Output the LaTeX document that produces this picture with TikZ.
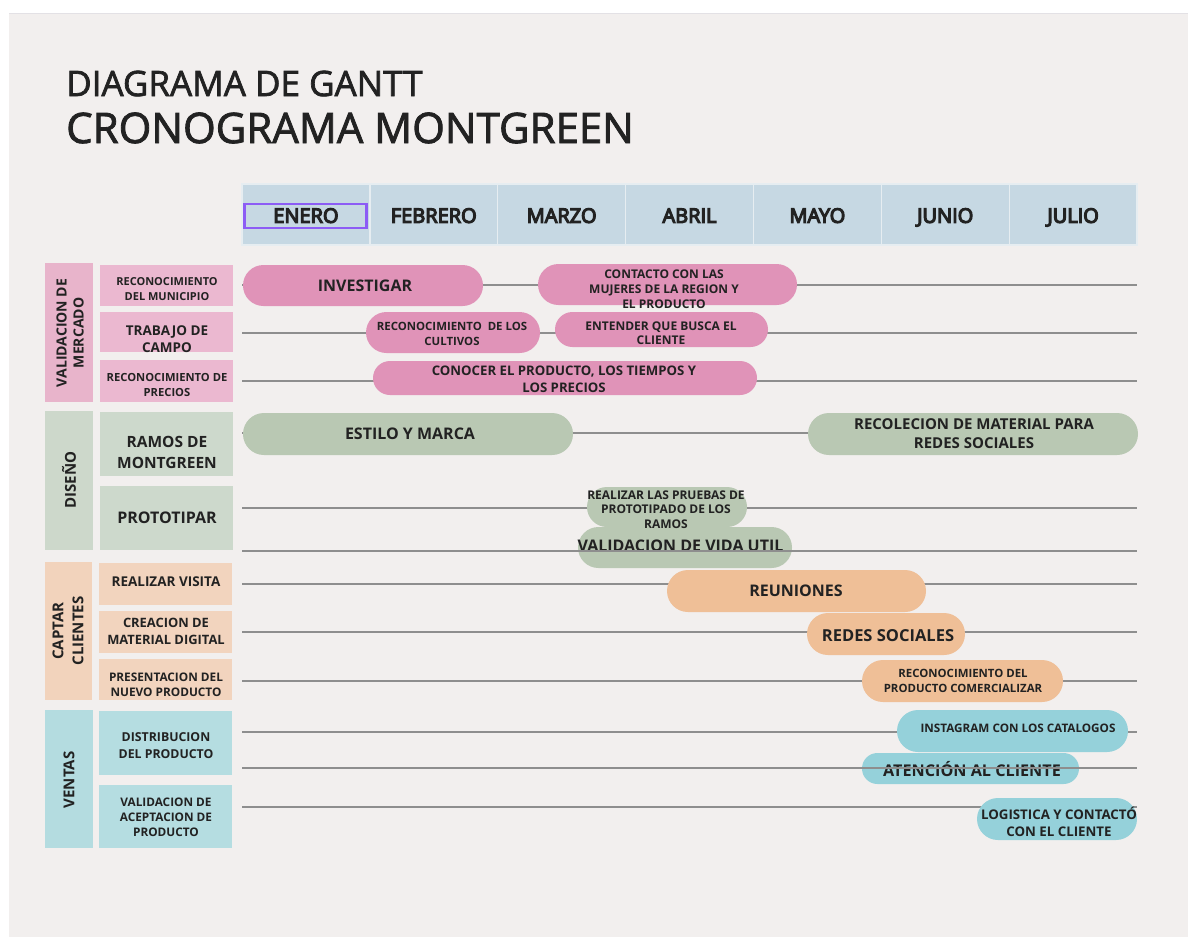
\documentclass[tikz,border=0pt]{standalone}
\usepackage{fontspec}
\usetikzlibrary{calc}
\setmainfont{Open Sans}

% palette
\definecolor{pagebg}{HTML}{F2EFEE}
\definecolor{topline}{HTML}{E3E1E5}
\definecolor{hdrc}{HTML}{C6D8E3}
\definecolor{hdrsep}{HTML}{E6EDF1}
\definecolor{selc}{HTML}{8C5CF5}
\definecolor{ink}{HTML}{222222}
\definecolor{lineg}{HTML}{8E8E8E}
\definecolor{pinkgrp}{HTML}{E8B4CB}
\definecolor{pinksub}{HTML}{EBB8D0}
\definecolor{pinkbar}{HTML}{E093B8}
\definecolor{greengrp}{HTML}{CDD8CB}
\definecolor{greensub}{HTML}{CDD9CC}
\definecolor{greenbar}{HTML}{B9C8B3}
\definecolor{peachgrp}{HTML}{F2D3BC}
\definecolor{peachsub}{HTML}{F2D4BE}
\definecolor{peachbar}{HTML}{EFBF97}
\definecolor{tealgrp}{HTML}{B4DCE0}
\definecolor{tealsub}{HTML}{B5DDE1}
\definecolor{tealbar}{HTML}{95D1DA}

\newcommand\fsz[2]{\fontsize{#1}{#2}\selectfont}
% medium weight: glyphs filled and lightly stroked
\newcommand\heavy[2]{\special{pdf:literal direct 2 Tr #1 w}#2\special{pdf:literal direct 0 Tr}}

% plain box given by its corners: name, x1, y1, x2, y2, style
\newcommand\cornerbox[6]{%
  \pgfmathsetmacro\gbW{#4-#2}%
  \pgfmathsetmacro\gbH{#5-#3}%
  \node[#6, minimum width=\gbW pt, minimum height=\gbH pt] (#1) at ({(#2+#4)/2},{(#3+#5)/2}) {};}

% pill-shaped task bar: name, x1, y1, x2, y2, fill
\newcommand\ganttbar[6]{%
  \pgfmathsetmacro\gbW{#4-#2}%
  \pgfmathsetmacro\gbH{#5-#3}%
  \pgfmathsetmacro\gbR{(#5-#3)/2-0.05}%
  \node[barbox, fill=#6, minimum width=\gbW pt, minimum height=\gbH pt,
        rounded corners=\gbR pt] (#1) at ({(#2+#4)/2},{(#3+#5)/2}) {};}

\begin{document}
\begin{tikzpicture}[x=1pt, y=-1pt,
  blk/.style={inner sep=0pt, outer sep=0pt, draw=none},
  barbox/.style={blk},
  txt/.style={inner sep=0pt, text=ink, align=center},
  bt/.style={txt, font=\bfseries},
  hdr/.style={fill=hdrc, draw=hdrsep, line width=1.3pt, inner sep=0pt,
    minimum width=127.86pt, minimum height=61pt},
  mtxt/.style={txt, anchor=base, font=\fsz{20}{22}},
  selbox/.style={draw=selc, line width=2.6pt, inner sep=0pt,
    minimum width=122pt, minimum height=24pt},
  rowline/.style={draw=lineg, line width=1.5pt}
]
\useasboundingbox (0,0) rectangle (1188,937);
\fill[white] (0,0) rectangle (1188,937);
\fill[pagebg] (9,13) rectangle (1188,937);
\draw[topline, line width=1.6pt] (9,13.5) -- (1188,13.5);

% title
\node[txt, anchor=base west] (title1) at (66,96) {\fsz{35}{40}\heavy{0.7}{DIAGRAMA DE GANTT}};
\node[txt, anchor=base west] (title2) at (66,143) {\fsz{42}{48}\heavy{0.8}{CRONOGRAMA MONTGREEN}};

% month header
\foreach \m [count=\i] in {ENERO,FEBRERO,MARZO,ABRIL,MAYO,JUNIO,JULIO}{
  \node[hdr] (m\i) at ({242+127.86*(\i-0.5)},214.5) {};
  \node[mtxt] (m\i t) at ($(m\i.center)+(0,8.3)$) {\heavy{1.2}{\m}};
}
\node[selbox] (sel) at (305.5,216) {};

% category columns
\cornerbox{g1}{45}{263}{93}{402}{blk, fill=pinkgrp}
\cornerbox{g2}{45}{411}{93}{550}{blk, fill=greengrp}
\cornerbox{g3}{45}{562}{92}{700}{blk, fill=peachgrp}
\cornerbox{g4}{45}{710}{93}{848}{blk, fill=tealgrp}
\node[bt, rotate=90, font=\bfseries\fsz{14}{17}] (g1t) at (70,333) {VALIDACION DE\\MERCADO};
\node[bt, rotate=90, font=\bfseries\fsz{15}{18}] (g2t) at (69,480) {DISEÑO};
\node[bt, rotate=90, font=\bfseries\fsz{15}{20}] (g3t) at (68,631) {CAPTAR\\CLIENTES};
\node[bt, rotate=90, font=\bfseries\fsz{15}{18}] (g4t) at (69,780) {VENTAS};

% activity boxes
\cornerbox{s1}{100}{265}{233}{306}{blk, fill=pinksub}
\cornerbox{s2}{100}{312}{233}{352}{blk, fill=pinksub}
\cornerbox{s3}{100}{360}{233}{402}{blk, fill=pinksub}
\cornerbox{s4}{100}{412}{233}{476}{blk, fill=greensub}
\cornerbox{s5}{100}{486}{233}{550}{blk, fill=greensub}
\cornerbox{s6}{99}{563}{232}{605}{blk, fill=peachsub}
\cornerbox{s7}{99}{611}{232}{653}{blk, fill=peachsub}
\cornerbox{s8}{99}{659}{232}{700}{blk, fill=peachsub}
\cornerbox{s9}{99}{711}{232}{775}{blk, fill=tealsub}
\cornerbox{s10}{99}{785}{232}{848}{blk, fill=tealsub}
\node[bt, font=\bfseries\fsz{11}{15}] (s1t) at (167,289) {RECONOCIMIENTO\\DEL MUNICIPIO};
\node[bt, font=\bfseries\fsz{13.5}{17}] (s2t) at (167,339) {TRABAJO DE\\CAMPO};
\node[bt, font=\bfseries\fsz{11.2}{14.5}] (s3t) at (167,385) {RECONOCIMIENTO DE\\PRECIOS};
\node[bt, font=\bfseries\fsz{15.5}{21}] (s4t) at (167,452) {RAMOS DE\\MONTGREEN};
\node[bt, font=\bfseries\fsz{16}{20}] (s5t) at (167,518) {PROTOTIPAR};
\node[bt, font=\bfseries\fsz{13.5}{17}] (s6t) at (166,582) {REALIZAR VISITA};
\node[bt, font=\bfseries\fsz{12.9}{17}] (s7t) at (166,631.5) {CREACION DE\\MATERIAL DIGITAL};
\node[bt, font=\bfseries\fsz{11.8}{15}] (s8t) at (166,684.5) {PRESENTACION DEL\\NUEVO PRODUCTO};
\node[bt, font=\bfseries\fsz{12.3}{17}] (s9t) at (166,745.5) {DISTRIBUCION\\DEL PRODUCTO};
\node[bt, font=\bfseries\fsz{11.8}{15}] (s10t) at (166,817) {VALIDACION DE\\ACEPTACION DE\\PRODUCTO};

% timeline rows
\foreach \r/\yy in {1/285,2/333,3/381,4/433,5/508,6/551,7/584,8/632,9/681,10/732,11/768,12/807}{
  \coordinate (r\r s) at (242,\yy);
  \coordinate (r\r e) at (1137,\yy);
}
\foreach \r in {1,2,3,4,5,7,8,9,10,12}
  \draw[rowline] (r\r s) -- (r\r e);

% validacion de mercado
\ganttbar{b1}{243}{265}{483}{306}{pinkbar}
\ganttbar{b2}{538}{264}{797}{305}{pinkbar}
\ganttbar{b3}{366}{312}{540}{353}{pinkbar}
\ganttbar{b4}{555}{312}{768}{347}{pinkbar}
\ganttbar{b5}{373}{361}{757}{395}{pinkbar}
\node[bt, font=\bfseries\fsz{16}{20}] (b1t) at (365,286) {INVESTIGAR};
\node[bt, font=\bfseries\fsz{12}{15}] (b2t) at (664,289) {CONTACTO CON LAS\\MUJERES DE LA REGION Y\\EL PRODUCTO};
\node[bt, font=\bfseries\fsz{11.4}{15}] (b3t) at (452,333.5) {RECONOCIMIENTO\ \ DE LOS\\CULTIVOS};
\node[bt, font=\bfseries\fsz{12}{14.5}] (b4t) at (661,333) {ENTENDER QUE BUSCA EL\\CLIENTE};
\node[bt, font=\bfseries\fsz{13.2}{17}] (b5t) at (564,379.5) {CONOCER EL PRODUCTO, LOS TIEMPOS Y\\LOS PRECIOS};

% diseno
\ganttbar{b6}{243}{413}{573}{455}{greenbar}
\ganttbar{b7}{808}{413}{1138}{455}{greenbar}
\ganttbar{b8}{587}{487}{747}{527}{greenbar}
\ganttbar{b9}{578}{527}{792}{568}{greenbar}
\node[bt, font=\bfseries\fsz{16}{20}] (b6t) at (410,434) {ESTILO Y MARCA};
\node[bt, font=\bfseries\fsz{15}{19}] (b7t) at (974,433.5) {RECOLECION DE MATERIAL PARA\\REDES SOCIALES};
\node[bt, font=\bfseries\fsz{12}{14.5}] (b8t) at (666,509.5) {REALIZAR LAS PRUEBAS DE\\PROTOTIPADO DE LOS\\RAMOS};
\node[bt, font=\bfseries\fsz{16}{20}] (b9t) at (680.5,546) {VALIDACION DE VIDA UTIL};

% captar clientes
\ganttbar{b10}{667}{570}{926}{612}{peachbar}
\ganttbar{b11}{807}{613}{965}{655}{peachbar}
\ganttbar{b12}{862}{660}{1063}{702}{peachbar}
\node[bt, font=\bfseries\fsz{16}{20}] (b10t) at (796,591) {REUNIONES};
\node[bt, font=\bfseries\fsz{16.5}{20}] (b11t) at (888,636) {REDES SOCIALES};
\node[bt, font=\bfseries\fsz{11.4}{15}] (b12t) at (963,680.5) {RECONOCIMIENTO DEL\\PRODUCTO COMERCIALIZAR};

% ventas
\ganttbar{b13}{897}{710}{1128}{752}{tealbar}
\ganttbar{b14}{862}{753}{1079}{784}{tealbar}
\ganttbar{b15}{977}{798}{1137}{840}{tealbar}
\node[bt, font=\bfseries\fsz{11.7}{15}] (b13t) at (1018,728) {INSTAGRAM CON LOS CATALOGOS};
\node[bt, font=\bfseries\fsz{16.2}{20}] (b14t) at (972,769) {ATENCIÓN AL CLIENTE};
\node[bt, font=\bfseries\fsz{13.3}{17}] (b15t) at (1059,821.5) {LOGISTICA Y CONTACTÓ\\CON EL CLIENTE};

% these two rows run over their bars
\draw[rowline] (r6s) -- (r6e);
\draw[rowline] (r11s) -- (r11e);
\end{tikzpicture}
\end{document}
